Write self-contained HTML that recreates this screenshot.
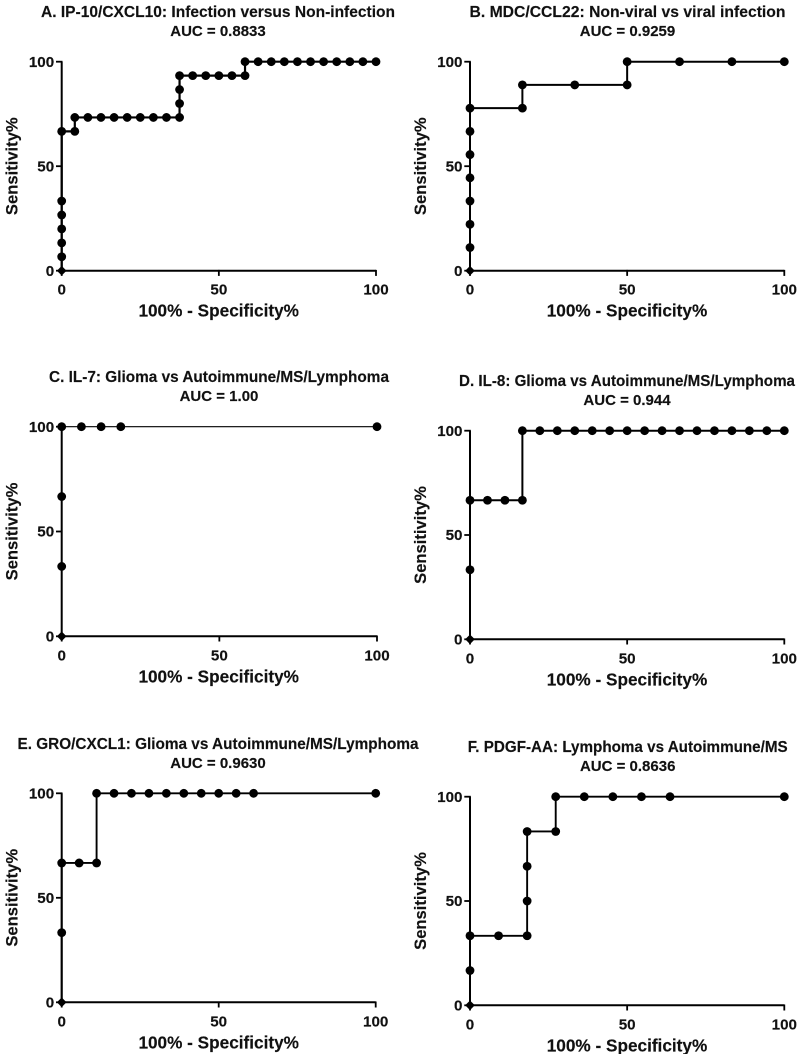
<!DOCTYPE html>
<html lang="en">
<head>
<meta charset="utf-8">
<title>ROC curves</title>
<style>
html,body{margin:0;padding:0;background:#fff;width:800px;height:1054px;overflow:hidden}
svg{display:block}
text{font-family:"Liberation Sans",Arial,sans-serif;font-weight:bold;fill:#111;stroke:#111;stroke-width:.15px}
</style>
</head>
<body>
<svg id="chart" xmlns="http://www.w3.org/2000/svg" width="800" height="1054" viewBox="0 0 800 1054"></svg>
<script>
const tickValues = [0, 50, 100];
const xAxisLabel = "100% - Specificity%";
const yAxisLabel = "Sensitivity%";

const titleA = "A. IP-10/CXCL10: Infection versus Non-infection";
const aucA = "AUC = 0.8833";
const fprA = [0,0,0,0,0,0,0,4.17,4.17,8.33,12.5,16.67,20.83,25,29.17,33.33,37.5,37.5,37.5,37.5,41.67,45.83,50,54.17,58.33,58.33,62.5,66.67,70.83,75,79.17,83.33,87.5,91.67,95.83,100];
const tprA = [0,6.67,13.33,20,26.67,33.33,66.67,66.67,73.33,73.33,73.33,73.33,73.33,73.33,73.33,73.33,73.33,80,86.67,93.33,93.33,93.33,93.33,93.33,93.33,100,100,100,100,100,100,100,100,100,100,100];

const titleB = "B. MDC/CCL22: Non-viral vs viral infection";
const aucB = "AUC = 0.9259";
const fprB = [0,0,0,0,0,0,0,0,16.67,16.67,33.33,50,50,66.67,83.33,100];
const tprB = [0,11.11,22.22,33.33,44.44,55.56,66.67,77.78,77.78,88.89,88.89,88.89,100,100,100,100];

const titleC = "C.  IL-7: Glioma vs Autoimmune/MS/Lymphoma";
const aucC = "AUC = 1.00";
const fprC = [0,0,0,0,6.25,12.5,18.75,100];
const tprC = [0,33.33,66.67,100,100,100,100,100];

const titleD = "D. IL-8: Glioma vs Autoimmune/MS/Lymphoma";
const aucD = "AUC = 0.944";
const fprD = [0,0,0,5.56,11.11,16.67,16.67,22.22,27.78,33.33,38.89,44.44,50,55.56,61.11,66.67,72.22,77.78,83.33,88.89,94.44,100];
const tprD = [0,33.33,66.67,66.67,66.67,66.67,100,100,100,100,100,100,100,100,100,100,100,100,100,100,100,100];

const titleE = "E. GRO/CXCL1: Glioma vs Autoimmune/MS/Lymphoma";
const aucE = "AUC = 0.9630";
const fprE = [0,0,0,5.56,11.11,11.11,16.67,22.22,27.78,33.33,38.89,44.44,50,55.56,61.11,100];
const tprE = [0,33.33,66.67,66.67,66.67,100,100,100,100,100,100,100,100,100,100,100];

const titleF = "F. PDGF-AA: Lymphoma vs Autoimmune/MS";
const aucF = "AUC = 0.8636";
const fprF = [0,0,0,9.09,18.18,18.18,18.18,18.18,27.27,27.27,36.36,45.45,54.55,63.64,100];
const tprF = [0,16.67,33.33,33.33,33.33,50,66.67,83.33,83.33,100,100,100,100,100,100];

const panels = [
  {id:"a", title:titleA, auc:aucA, fpr:fprA, tpr:tprA, x0:61.7, x1:376, y0:270.7, y1:61.7, cx:218, tb:17, ab:36, tw:354, lw:2.2},
  {id:"b", title:titleB, auc:aucB, fpr:fprB, tpr:tprB, x0:470, x1:784.3, y0:270.7, y1:61.7, cx:627.5, tb:17, ab:36, tw:316, lw:2},
  {id:"c", title:titleC, auc:aucC, fpr:fprC, tpr:tprC, x0:61.7, x1:377, y0:636.3, y1:426.7, cx:219, tb:382, ab:401, tw:340, lw:1.2},
  {id:"d", title:titleD, auc:aucD, fpr:fprD, tpr:tprD, x0:470, x1:784.3, y0:639.3, y1:430.7, cx:627, tb:386, ab:405, tw:336, lw:2},
  {id:"e", title:titleE, auc:aucE, fpr:fprE, tpr:tprE, x0:61.7, x1:375.7, y0:1002.3, y1:793.3, cx:218, tb:749, ab:768, tw:401, lw:1.9},
  {id:"f", title:titleF, auc:aucF, fpr:fprF, tpr:tprF, x0:470, x1:784.3, y0:1005.3, y1:796.7, cx:627.7, tb:752, ab:771, tw:320, lw:1.9}
];

const NS = "http://www.w3.org/2000/svg";
const svg = document.getElementById("chart");

function make(parent, tag, attrs, content) {
  const el = document.createElementNS(NS, tag);
  for (const k in attrs) el.setAttribute(k, attrs[k]);
  if (content !== undefined) el.textContent = content;
  parent.appendChild(el);
  return el;
}

panels.forEach(function (p) {
  const sx = function (v) { return p.x0 + (p.x1 - p.x0) * v / 100; };
  const sy = function (v) { return p.y0 + (p.y1 - p.y0) * v / 100; };

  const g = make(svg, "g", {});
  
  

  const title = make(g, "text", {x:p.cx, y:p.tb, "text-anchor":"middle", "font-size":15.6, textLength:p.tw, lengthAdjust:"spacingAndGlyphs"}, p.title);
  
  

  const auc = make(g, "text", {x:p.cx, y:p.ab, "text-anchor":"middle", "font-size":15}, p.auc);
  
  

  const xAxis = make(g, "path", {d:"M" + p.x0 + " " + p.y0 + "H" + p.x1, stroke:"#000", "stroke-width":2, fill:"none"});
  
  

  const yAxis = make(g, "path", {d:"M" + p.x0 + " " + p.y0 + "V" + p.y1, stroke:"#000", "stroke-width":2, fill:"none"});
  
  

  tickValues.forEach(function (t) {
    const xt = make(g, "path", {d:"M" + sx(t) + " " + (p.y0 - 0.8) + "v6", stroke:"#000", "stroke-width":1.8});
    
    

    const yt = make(g, "path", {d:"M" + (p.x0 + 0.8) + " " + sy(t) + "h-6.5", stroke:"#000", "stroke-width":1.8});
    
    

    const xl = make(g, "text", {x:sx(t), y:p.y0 + 24, "text-anchor":"middle", "font-size":15.2}, String(t));
    
    

    const yl = make(g, "text", {x:p.x0 - 7.5, y:sy(t) + 5.2, "text-anchor":"end", "font-size":15.2}, String(t));
    
    
  });

  const xTitle = make(g, "text", {x:p.x0 + 157, y:p.y0 + 46, "text-anchor":"middle", "font-size":17.2}, xAxisLabel);
  
  

  const ym = (p.y0 + p.y1) / 2;
  const yTitle = make(g, "text", {transform:"translate(" + (p.x0 - 44) + " " + ym + ") rotate(-90)", "text-anchor":"middle", "font-size":16.6}, yAxisLabel);
  
  

  const d = p.fpr.map(function (v, i) {
    return (i ? "L" : "M") + sx(v).toFixed(2) + " " + sy(p.tpr[i]).toFixed(2);
  }).join("");
  const line = make(g, "path", {d:d, stroke:"#000", "stroke-width":p.lw, fill:"none"});
  
  

  p.fpr.forEach(function (v, i) {
    const px = sx(v), py = sy(p.tpr[i]);
    let pt;
    if (v === 0 && p.tpr[i] === 0) {
      pt = make(g, "path", {d:"M" + (px - 4.8) + " " + py + "L" + px + " " + (py - 4.8) + "L" + (px + 4.8) + " " + py + "L" + px + " " + (py + 4.8) + "Z", fill:"#000"});
    } else {
      pt = make(g, "circle", {cx:px, cy:py, r:4.4, fill:"#000"});
    }
    
    
  });
});
</script>
</body>
</html>
